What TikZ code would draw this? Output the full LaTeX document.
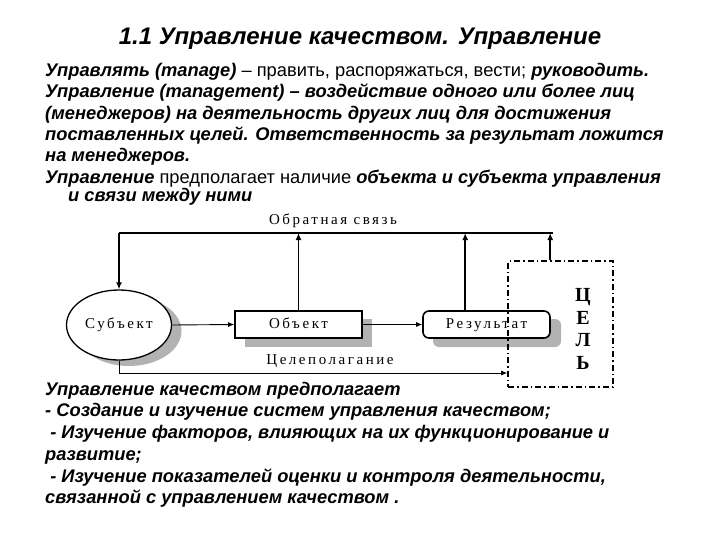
\documentclass[tikz,border=0pt]{standalone}
\usepackage{fontspec}
\setmainfont{Liberation Sans}
\newfontfamily\dgfont[LetterSpace=17]{Liberation Serif}
\newfontfamily\goalfont{Liberation Serif}
\usetikzlibrary{shapes.geometric,arrows.meta,calc}
\begin{document}
\begin{tikzpicture}[x=1pt,y=-1pt,
  txt/.style={anchor=base west,inner sep=0pt,font=\fontsize{18.3}{21}\selectfont\bfseries\itshape},
  lbl/.style={inner sep=0pt,font=\fontsize{15}{17}\selectfont\dgfont},
  shad/.style={fill=black!30,draw=none},
  conn/.style={line width=0.9pt,-{Latex[length=6pt,width=5pt]}},
  vconn/.style={line width=1.6pt,-{Latex[length=7pt,width=6pt]}},
  boxstyle/.style={draw,line width=1.6pt,fill=white,minimum width=127pt,minimum height=27pt,inner sep=0pt,text height=10pt,text depth=3pt,font=\fontsize{15}{17}\selectfont\dgfont}
]
\fill[white] (0,0) rectangle (720,540);
\useasboundingbox (0,0) rectangle (720,540);

% title
\node[anchor=base,inner sep=0pt,font=\fontsize{24}{27}\selectfont\bfseries\itshape] (title) at (360,45) {1.1 Управление качеством. Управление};

% upper text
\node[txt] (t1) at (45,77) {Управлять (manage) {\normalfont – править, распоряжаться, вести;} руководить.};
\node[txt] (t2) at (45,98) {Управление (management) – воздействие одного или более лиц};
\node[txt] (t3) at (45,120) {(менеджеров) на деятельность других лиц для достижения};
\node[txt] (t4) at (45,141) {поставленных целей. Ответственность за результат ложится};
\node[txt] (t5) at (45,162) {на менеджеров.};
\node[txt] (t6) at (45,184) {Управление {\normalfont предполагает наличие} объекта и субъекта управления};
\node[txt] (t7) at (68,202) {и связи между ними};

% shadows
\fill[shad] (129,331) ellipse [x radius=52.5pt,y radius=35pt];
\fill[shad] (245,319) rectangle (372,347);
\fill[shad,rounded corners=6pt] (433,319) rectangle (561,347);

% diagram nodes
\node[ellipse,draw,line width=1.3pt,fill=white,minimum width=105pt,minimum height=70pt,inner sep=0pt,text height=10pt,text depth=3pt,font=\fontsize{15}{17}\selectfont\dgfont] (subj) at (119,325) {Субъект};
\node[boxstyle] (obj) at (298.5,324.5) {Объект};
\node[boxstyle,rounded corners=6pt] (res) at (486.5,324.5) {Результат};
\node[draw,line width=1.6pt,dash pattern=on 6pt off 3pt on 1.5pt off 3pt,minimum width=105pt,minimum height=126pt,inner sep=0pt] (goal) at (560.5,324) {};
\node[align=center,inner sep=0pt,font=\fontsize{20}{22.7}\selectfont\goalfont\bfseries] (goaltxt) at (583,329) {Ц\\Е\\Л\\Ь};

\node[lbl] (fbl) at (333,221) {Обратная связь};
\node[lbl] (cel) at (330,361) {Целеполагание};

% connectors
\coordinate (fbL) at (119,233);
\coordinate (fbR) at (553,233);
\coordinate (gtop) at ($(goal.north west)+(43,0)$);
\coordinate (rtop) at ($(res.north west)+(43,0)$);
\coordinate (gin) at (goal.west |- 0,373);
\draw[line width=1.3pt] (fbR) -- (fbL);
\draw[vconn] (fbL) -- (subj.north);
\draw[vconn] (obj.north) -- (obj.north |- fbL);
\draw[vconn] (rtop) -- (rtop |- fbL);
\draw[vconn] (gtop) -- (gtop |- fbL);
\draw[conn] (subj.east) -- (obj.west);
\draw[conn] (obj.east) -- (res.west);
\draw[conn] (subj.south) |- (gin);

% lower text
\node[txt] (b1) at (45,395) {Управление качеством предполагает};
\node[txt] (b2) at (45,416) {- Создание и изучение систем управления качеством;};
\node[txt] (b3) at (45,438) {\ - Изучение факторов, влияющих на их функционирование и};
\node[txt] (b4) at (45,460) {развитие;};
\node[txt] (b5) at (45,482) {\ - Изучение показателей оценки и контроля деятельности,};
\node[txt] (b6) at (45,503) {связанной с управлением качеством .};
\end{tikzpicture}
\end{document}
